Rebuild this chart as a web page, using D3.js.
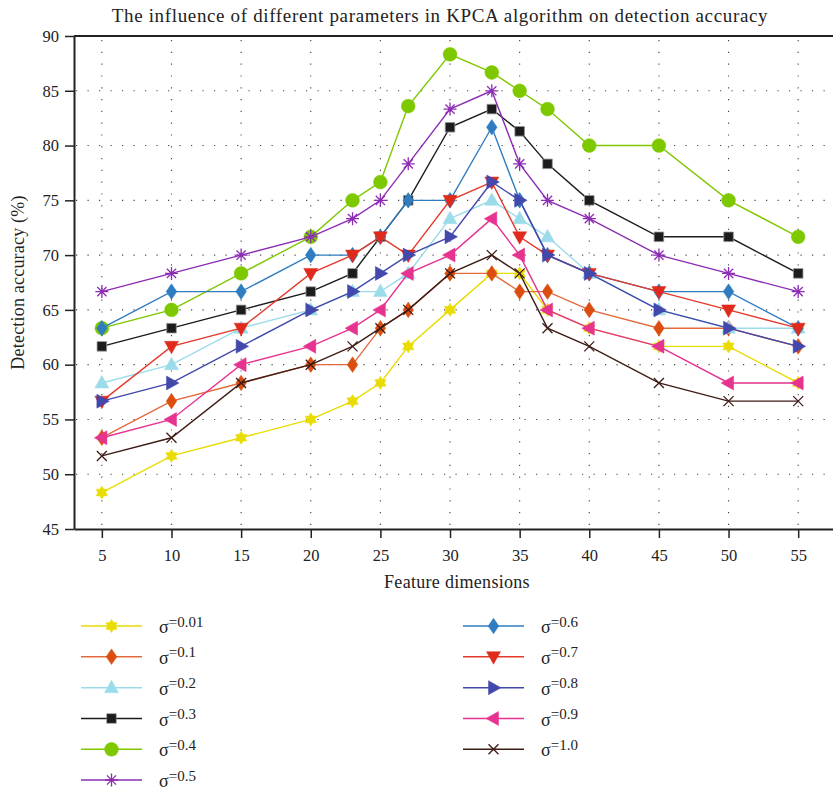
<!DOCTYPE html>
<html>
<head>
<meta charset="utf-8">
<script src="https://cdn.jsdelivr.net/npm/d3@7"></script>
<style>
  body { margin: 0; background: #fff; }
  text { font-family: "Liberation Serif", "Times New Roman", serif; fill: #222; }
</style>
</head>
<body>
<svg id="chart" width="833" height="790"></svg>
<script>
// x positions (feature dimensions)
var dims = [5, 10, 15, 20, 23, 25, 27, 30, 33, 35, 37, 40, 45, 50, 55]
var xTicks = [5, 10, 15, 20, 25, 30, 35, 40, 45, 50, 55]
var yTicks = [45, 50, 55, 60, 65, 70, 75, 80, 85, 90]

// detection accuracy (%) for each sigma
var sigmaNames = ['0.01', '0.1', '0.2', '0.3', '0.4', '0.5', '0.6', '0.7', '0.8', '0.9', '1.0']
var acc001 = [48.33, 51.67, 53.33, 55, 56.67, 58.33, 61.67, 65, 68.33, 68.33, 65, 63.33, 61.67, 61.67, 58.33]
var acc01 = [53.33, 56.67, 58.33, 60, 60, 63.33, 65, 68.33, 68.33, 66.67, 66.67, 65, 63.33, 63.33, 61.67]
var acc02 = [58.33, 60, 63.33, 65, 66.67, 66.67, 68.33, 73.33, 75, 73.33, 71.67, 68.33, 65, 63.33, 63.33]
var acc03 = [61.67, 63.33, 65, 66.67, 68.33, 71.67, 75, 81.67, 83.33, 81.3, 78.33, 75, 71.67, 71.67, 68.33]
var acc04 = [63.33, 65, 68.33, 71.67, 75, 76.67, 83.6, 88.33, 86.67, 85, 83.33, 80, 80, 75, 71.67]
var acc05 = [66.67, 68.33, 70, 71.67, 73.33, 75, 78.33, 83.33, 85, 78.33, 75, 73.33, 70, 68.33, 66.67]
var acc06 = [63.33, 66.67, 66.67, 70, 70, 71.67, 75, 75, 81.67, 75, 70, 68.33, 66.67, 66.67, 63.33]
var acc07 = [56.67, 61.67, 63.33, 68.33, 70, 71.67, 70, 75, 76.67, 71.67, 70, 68.33, 66.67, 65, 63.33]
var acc08 = [56.67, 58.33, 61.67, 65, 66.67, 68.33, 70, 71.67, 76.67, 75, 70, 68.33, 65, 63.33, 61.67]
var acc09 = [53.33, 55, 60, 61.67, 63.33, 65, 68.33, 70, 73.33, 70, 65, 63.33, 61.67, 58.33, 58.33]
var acc10 = [51.67, 53.33, 58.33, 60, 61.67, 63.33, 65, 68.33, 70, 68.33, 63.33, 61.67, 58.33, 56.67, 56.67]

var allAcc = [acc001, acc01, acc02, acc03, acc04, acc05, acc06, acc07, acc08, acc09, acc10]
var colors = ['#e8dc00', '#dc4e10', '#9cdcea', '#1c1c1c', '#7ec800', '#8c2cb4',
  '#2f7cc0', '#e02a1c', '#4248ac', '#e6338f', '#3e1c16']
var lineColors = ['#e8dc00', '#e46a3e', '#9cdcea', '#1c1c1c', '#7ec800', '#8c2cb4',
  '#2f7cc0', '#e43a2c', '#4248ac', '#e6338f', '#3e1c16']
var markers = ['hexagram', 'diamond', 'triUp', 'square', 'circle', 'asterisk',
  'diamond', 'triDown', 'triRight', 'triLeft', 'cross']

var margin = { top: 36, right: 0, bottom: 261, left: 74 }
var width = 833 - margin.left - margin.right
var height = 790 - margin.top - margin.bottom

var svg = d3.select('#chart')
var g = svg.append('g').attr('transform', 'translate(' + margin.left + ',' + margin.top + ')')

var xScale = d3.scaleLinear().domain([3, 57.5]).range([0, width])
var yScale = d3.scaleLinear().domain([45, 90]).range([height, 0])

// dotted grid
g.append('g').selectAll('line').data(yTicks.slice(1, -1)).join('line')
  .attr('x1', 2).attr('x2', width)
  .attr('y1', d => yScale(d)).attr('y2', d => yScale(d))
  .attr('stroke', '#444').attr('stroke-width', 1.1)
  .attr('stroke-dasharray', '1.2,10.3')
g.append('g').selectAll('line').data(xTicks).join('line')
  .attr('x1', d => xScale(d)).attr('x2', d => xScale(d))
  .attr('y1', 4).attr('y2', height)
  .attr('stroke', '#444').attr('stroke-width', 1.1)
  .attr('stroke-dasharray', '1.2,10.6')

// top border (no right border in the original)
g.append('line').attr('x1', 0).attr('x2', width).attr('y1', 0).attr('y2', 0)
  .attr('stroke', '#222').attr('stroke-width', 1.8)

// axes
var xAxis = d3.axisBottom(xScale).tickValues(xTicks).tickSize(9).tickPadding(11).tickSizeOuter(0)
var yAxis = d3.axisLeft(yScale).tickValues(yTicks).tickSize(9).tickPadding(6).tickSizeOuter(0)

var gx = g.append('g').attr('transform', 'translate(0,' + height + ')').call(xAxis)
var gy = g.append('g').call(yAxis)
;[gx, gy].forEach(function(ax) {
  ax.select('.domain').attr('stroke', '#222').attr('stroke-width', 2)
  ax.selectAll('.tick line').attr('stroke', '#222').attr('stroke-width', 1.5)
  ax.selectAll('.tick text').attr('font-size', 16.5).attr('fill', '#222')
    .attr('font-family', '"Liberation Serif", serif')
})

// marker shapes
function markerPath(type) {
  var p
  switch (type) {
    case 'circle':
      return d3.symbol(d3.symbolCircle, Math.PI * 6.9 * 6.9)()
    case 'square':
      return 'M-4.8,-4.8H4.8V4.8H-4.8Z'
    case 'diamond':
      return 'M0,-7.8L5.3,0L0,7.8L-5.3,0Z'
    case 'triUp':
      return 'M0,-7.5L7,5L-7,5Z'
    case 'triDown':
      return 'M0,7.5L7,-5L-7,-5Z'
    case 'triRight':
      return 'M7.5,0L-5,-7L-5,7Z'
    case 'triLeft':
      return 'M-7.5,0L5,-7L5,7Z'
    case 'hexagram':
      p = []
      for (var i = 0; i < 12; i++) {
        var a = Math.PI / 6 * i - Math.PI / 2
        var r = i % 2 === 0 ? 6.6 : 3.9
        p.push([r * Math.cos(a), r * Math.sin(a)])
      }
      return 'M' + p.map(q => q[0].toFixed(2) + ',' + q[1].toFixed(2)).join('L') + 'Z'
    case 'asterisk':
      return 'M0,-6.5V6.5M-6.5,0H6.5M-4.6,-4.6L4.6,4.6M-4.6,4.6L4.6,-4.6'
    case 'cross':
      return 'M-5,-5L5,5M-5,5L5,-5'
  }
}
function isStroke(type) { return type === 'asterisk' || type === 'cross' }

var line = d3.line().x((d, i) => xScale(dims[i])).y(d => yScale(d))

allAcc.forEach(function(vals, k) {
  var sg = g.append('g')
  sg.append('path').datum(vals).attr('d', line)
    .attr('fill', 'none').attr('stroke', lineColors[k]).attr('stroke-width', 1.4)
  sg.selectAll('path.mk').data(vals).join('path').attr('class', 'mk')
    .attr('transform', (d, i) => 'translate(' + xScale(dims[i]) + ',' + yScale(d) + ')')
    .attr('d', markerPath(markers[k]))
    .attr('fill', isStroke(markers[k]) ? 'none' : colors[k])
    .attr('stroke', markers[k] === 'square' ? '#999' : colors[k])
    .attr('stroke-width', isStroke(markers[k]) ? 1.3 : (markers[k] === 'square' ? 0.8 : 0.5))
})

// title and axis labels
svg.append('text').attr('x', 440).attr('y', 22).attr('text-anchor', 'middle')
  .attr('font-size', 19).attr('letter-spacing', 0.65)
  .text('The influence of different parameters in KPCA algorithm on detection accuracy')
svg.append('text').attr('x', 457).attr('y', 588).attr('text-anchor', 'middle')
  .attr('font-size', 18).attr('letter-spacing', 0.3).text('Feature dimensions')
svg.append('text').attr('transform', 'translate(24,' + (margin.top + height / 2) + ') rotate(-90)')
  .attr('text-anchor', 'middle').attr('font-size', 18).attr('letter-spacing', 0.2)
  .text('Detection accuracy (%)')

// legend
var legRows = [626, 656.7, 687.7, 718.5, 749.3, 780]
var legCols = [{ x0: 81, x1: 142, tx: 159 }, { x0: 463, x1: 524, tx: 541 }]
sigmaNames.forEach(function(name, k) {
  var col = legCols[k < 6 ? 0 : 1]
  var y = legRows[k < 6 ? k : k - 6]
  var lg = svg.append('g')
  lg.append('line').attr('x1', col.x0).attr('x2', col.x1).attr('y1', y).attr('y2', y)
    .attr('stroke', lineColors[k]).attr('stroke-width', 1.4)
  lg.append('path').attr('transform', 'translate(' + (col.x0 + col.x1) / 2 + ',' + y + ')')
    .attr('d', markerPath(markers[k]))
    .attr('fill', isStroke(markers[k]) ? 'none' : colors[k])
    .attr('stroke', markers[k] === 'square' ? '#999' : colors[k])
    .attr('stroke-width', isStroke(markers[k]) ? 1.3 : 0.5)
  var t = lg.append('text').attr('x', col.tx).attr('y', y + 7).attr('font-size', 18)
  t.append('tspan').text('σ')
  t.append('tspan').attr('dy', -6.5).attr('font-size', 15).text('=' + name)
})
</script>
</body>
</html>
